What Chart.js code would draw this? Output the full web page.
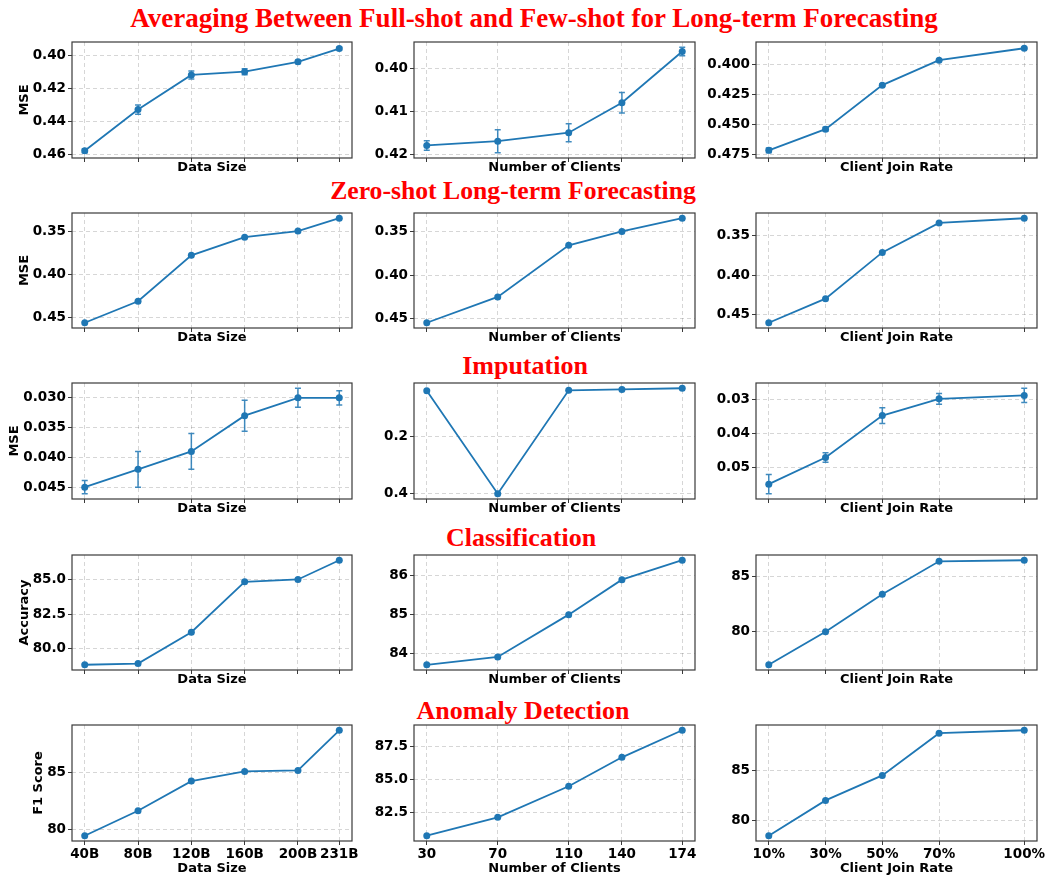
<!DOCTYPE html>
<html>
<head>
<meta charset="utf-8">
<script src="https://cdn.jsdelivr.net/npm/chart.js@4.4.0/dist/chart.umd.min.js"></script>
<style>
  html, body { margin: 0; padding: 0; background: #fff; }
  body { width: 1045px; height: 879px; position: relative; overflow: hidden; }
  canvas { position: absolute; }
  .section-title {
    position: absolute; width: 900px; text-align: center; white-space: nowrap;
    font-family: 'Liberation Serif', 'Times New Roman', serif; font-weight: bold;
    line-height: 30px; color: #ff0000;
  }
</style>
</head>
<body>
<script>
// ---- x categories ----
const dataSizes      = [40, 80, 120, 160, 200, 231];
const dataSizeLabels = ['40B', '80B', '120B', '160B', '200B', '231B'];
const clientCounts   = [30, 70, 110, 140, 174];
const clientLabels   = ['30', '70', '110', '140', '174'];
const joinRates      = [10, 30, 50, 70, 100];
const joinRateLabels = ['10%', '30%', '50%', '70%', '100%'];

// ---- Averaging between full-shot and few-shot (MSE) ----
const avgMseBySize      = [0.458, 0.433, 0.412, 0.410, 0.404, 0.396];
const avgErrBySize      = [0.0012, 0.0028, 0.0024, 0.0018, 0.0010, 0.0008];
const avgMseByClients   = [0.418, 0.417, 0.415, 0.408, 0.396];
const avgErrByClients   = [0.0011, 0.0027, 0.0021, 0.0024, 0.0010];
const avgMseByJoinRate  = [0.4713, 0.4537, 0.4171, 0.3963, 0.3864];
const avgErrByJoinRate  = [0.0020, 0.0015, 0.0010, 0.0008, 0.0008];

// ---- Zero-shot long-term forecasting (MSE) ----
const zeroMseBySize     = [0.456, 0.431, 0.3775, 0.3564, 0.3493, 0.3344];
const zeroMseByClients  = [0.4547, 0.4249, 0.3655, 0.3495, 0.3343];
const zeroMseByJoinRate = [0.4598, 0.4296, 0.3716, 0.3347, 0.3288];

// ---- Imputation (MSE) ----
const impMseBySize      = [0.045, 0.042, 0.039, 0.033, 0.030, 0.030];
const impErrBySize      = [0.0011, 0.0030, 0.0030, 0.0026, 0.0016, 0.0012];
const impMseByClients   = [0.039, 0.400, 0.037, 0.034, 0.030];
const impMseByJoinRate  = [0.0549, 0.0471, 0.0348, 0.0299, 0.0289];
const impErrByJoinRate  = [0.0028, 0.0014, 0.0023, 0.0016, 0.0021];

// ---- Classification (Accuracy) ----
const clsAccBySize      = [78.83, 78.92, 81.18, 84.83, 85.0, 86.39];
const clsAccByClients   = [83.71, 83.91, 85.0, 85.9, 86.4];
const clsAccByJoinRate  = [77.0, 80.0, 83.4, 86.4, 86.5];

// ---- Anomaly detection (F1 score) ----
const adF1BySize        = [79.44, 81.63, 84.24, 85.09, 85.18, 88.71];
const adF1ByClients     = [80.72, 82.12, 84.49, 86.69, 88.75];
const adF1ByJoinRate    = [78.52, 82.01, 84.48, 88.65, 88.94];

// ---- y tick labels ----
const yTicksAvgSize     = ['0.40', '0.42', '0.44', '0.46'];
const yTicksAvgClients  = ['0.40', '0.41', '0.42'];
const yTicksAvgJoin     = ['0.400', '0.425', '0.450', '0.475'];
const yTicksZero        = ['0.35', '0.40', '0.45'];
const yTicksImpSize     = ['0.030', '0.035', '0.040', '0.045'];
const yTicksImpClients  = ['0.2', '0.4'];
const yTicksImpJoin     = ['0.03', '0.04', '0.05'];
const yTicksClsSize     = ['80.0', '82.5', '85.0'];
const yTicksClsClients  = ['84', '85', '86'];
const yTicksClsJoin     = ['80', '85'];
const yTicksAdSize      = ['80', '85'];
const yTicksAdClients   = ['82.5', '85.0', '87.5'];
const yTicksAdJoin      = ['80', '85'];

const sectionTitles = [
  'Averaging Between Full-shot and Few-shot for Long-term Forecasting',
  'Zero-shot Long-term Forecasting',
  'Imputation',
  'Classification',
  'Anomaly Detection'
];
const rowYLabels = ['MSE', 'MSE', 'MSE', 'Accuracy', 'F1 Score'];

// ---- geometry ----
const colPlotLeft   = [72, 414, 756];
const colPlotRight  = [352, 695, 1037];
const colAxisWidth  = [72, 60, 60];
const rowPlotTop    = [42, 213, 383, 555, 725];
const rowPlotBottom = [158, 328, 499, 670, 841];
const rowYTitleX    = [25, 24.7, 14.7, 24.3, 39];
const titleCenterX  = [534, 513, 525, 521, 523];
const titleBaseline = [27, 200, 375, 547, 720];
const titleSize     = [27, 25.7, 26, 26, 26];
const PAD_TOP = 8, PAD_RIGHT = 8;

const columns = [
  { x: dataSizes,    xLabels: dataSizeLabels, name: 'Data Size' },
  { x: clientCounts, xLabels: clientLabels,   name: 'Number of Clients' },
  { x: joinRates,    xLabels: joinRateLabels, name: 'Client Join Rate' }
];

const panels = [
  [ { v: avgMseBySize, e: avgErrBySize, t: yTicksAvgSize },
    { v: avgMseByClients, e: avgErrByClients, t: yTicksAvgClients },
    { v: avgMseByJoinRate, e: avgErrByJoinRate, t: yTicksAvgJoin } ],
  [ { v: zeroMseBySize, t: yTicksZero },
    { v: zeroMseByClients, t: yTicksZero },
    { v: zeroMseByJoinRate, t: yTicksZero } ],
  [ { v: impMseBySize, e: impErrBySize, t: yTicksImpSize },
    { v: impMseByClients, t: yTicksImpClients },
    { v: impMseByJoinRate, e: impErrByJoinRate, t: yTicksImpJoin } ],
  [ { v: clsAccBySize, t: yTicksClsSize },
    { v: clsAccByClients, t: yTicksClsClients },
    { v: clsAccByJoinRate, t: yTicksClsJoin } ],
  [ { v: adF1BySize, t: yTicksAdSize },
    { v: adF1ByClients, t: yTicksAdClients },
    { v: adF1ByJoinRate, t: yTicksAdJoin } ]
];

const BLUE = '#1f77b4';
Chart.defaults.font.family = "'DejaVu Sans', sans-serif";
Chart.defaults.color = '#000';

// vertical error bars with caps, drawn beneath the line and markers
const errorBars = {
  id: 'errorBars',
  beforeDatasetsDraw(chart) {
    const ds = chart.data.datasets[0];
    if (!ds.errors) return;
    const xs = chart.scales.x, ys = chart.scales.y, ctx = chart.ctx;
    ctx.save();
    ctx.strokeStyle = 'rgba(31,119,180,0.85)';
    ctx.lineWidth = 1.5;
    ds.data.forEach((p, i) => {
      const e = ds.errors[i];
      if (!e) return;
      const px = xs.getPixelForValue(p.x);
      const y1 = ys.getPixelForValue(p.y - e);
      const y2 = ys.getPixelForValue(p.y + e);
      ctx.beginPath();
      ctx.moveTo(px, y1); ctx.lineTo(px, y2);
      ctx.moveTo(px - 3, y1); ctx.lineTo(px + 3, y1);
      ctx.moveTo(px - 3, y2); ctx.lineTo(px + 3, y2);
      ctx.stroke();
    });
    ctx.restore();
  }
};

// axes frame around the plotting area
const frame = {
  id: 'frame',
  afterDraw(chart) {
    const a = chart.chartArea, ctx = chart.ctx;
    ctx.save();
    ctx.strokeStyle = '#3a3a3a';
    ctx.lineWidth = 1.2;
    ctx.strokeRect(a.left, a.top, a.right - a.left, a.bottom - a.top);
    ctx.restore();
  }
};

// section headings
sectionTitles.forEach((text, r) => {
  const d = document.createElement('div');
  d.className = 'section-title';
  d.textContent = text;
  d.style.fontSize = titleSize[r] + 'px';
  d.style.left = (titleCenterX[r] - 450) + 'px';
  d.style.top = (titleBaseline[r] - 24) + 'px';
  document.body.appendChild(d);
});

panels.forEach((row, r) => {
  row.forEach((p, c) => {
    const col = columns[c];
    const lastRow = r === panels.length - 1;
    const xAxisH = lastRow ? 35 : 17;
    const yAxisW = colAxisWidth[c];
    const plotW = colPlotRight[c] - colPlotLeft[c];
    const plotH = rowPlotBottom[r] - rowPlotTop[r];

    const cv = document.createElement('canvas');
    cv.width = yAxisW + plotW + PAD_RIGHT;
    cv.height = PAD_TOP + plotH + xAxisH;
    cv.style.left = (colPlotLeft[c] - yAxisW) + 'px';
    cv.style.top = (rowPlotTop[r] - PAD_TOP) + 'px';
    document.body.appendChild(cv);

    // axis limits: data extent (including error bars) with 5% margins
    const xmin = Math.min(...col.x), xmax = Math.max(...col.x);
    const xpad = 0.05 * (xmax - xmin);
    const errs = p.e || p.v.map(() => 0);
    const lo = Math.min(...p.v.map((v, i) => v - errs[i]));
    const hi = Math.max(...p.v.map((v, i) => v + errs[i]));
    const ypad = 0.05 * (hi - lo);
    const yTickVals = p.t.map(Number);
    const reversed = r < 3;

    const gridCommon = {
      color: 'rgba(0,0,0,0.16)',
      lineWidth: 1,
      drawTicks: true,
      tickLength: 4,
      tickColor: '#3a3a3a',
      tickWidth: 1,
      tickBorderDash: []
    };

    new Chart(cv, {
      type: 'line',
      data: {
        datasets: [{
          data: col.x.map((x, i) => ({ x, y: p.v[i] })),
          errors: p.e,
          borderColor: BLUE,
          backgroundColor: BLUE,
          borderWidth: 1.8,
          pointRadius: 3.5,
          pointBorderWidth: 0,
          pointBackgroundColor: BLUE,
          tension: 0
        }]
      },
      options: {
        responsive: false,
        animation: false,
        events: [],
        layout: { padding: { top: PAD_TOP, right: PAD_RIGHT, left: 0, bottom: 0 } },
        plugins: { legend: { display: false }, tooltip: { enabled: false } },
        scales: {
          x: {
            type: 'linear',
            min: xmin - xpad,
            max: xmax + xpad,
            bounds: 'data',
            grid: gridCommon,
            border: { display: false, dash: [4, 3] },
            afterBuildTicks: s => { s.ticks = col.x.map(v => ({ value: v })); },
            afterFit: s => { s.height = xAxisH; s.paddingLeft = 0; s.paddingRight = 0; },
            ticks: {
              display: lastRow,
              padding: 1,
              maxRotation: 0,
              autoSkip: false,
              font: { size: 13.5, weight: 'bold' },
              callback: (v, i) => col.xLabels[i]
            },
            title: {
              display: true,
              text: col.name,
              padding: { top: 0, bottom: 0 },
              font: { size: 13, weight: 'bold' }
            }
          },
          y: {
            type: 'linear',
            reverse: reversed,
            min: lo - ypad,
            max: hi + ypad,
            bounds: 'data',
            grid: gridCommon,
            border: { display: false, dash: [4, 3] },
            afterBuildTicks: s => { s.ticks = yTickVals.map(v => ({ value: v })); },
            afterFit: s => { s.width = yAxisW; s.paddingTop = 0; s.paddingBottom = 0; },
            ticks: {
              padding: 2,
              autoSkip: false,
              font: { size: 13.5, weight: 'bold' },
              callback: (v, i) => p.t[i]
            },
            title: {
              display: c === 0,
              text: rowYLabels[r],
              padding: { top: rowYTitleX[r] - 7.8, bottom: 0 },
              font: { size: 13, weight: 'bold' }
            }
          }
        }
      },
      plugins: [errorBars, frame]
    });
  });
});
</script>
</body>
</html>
